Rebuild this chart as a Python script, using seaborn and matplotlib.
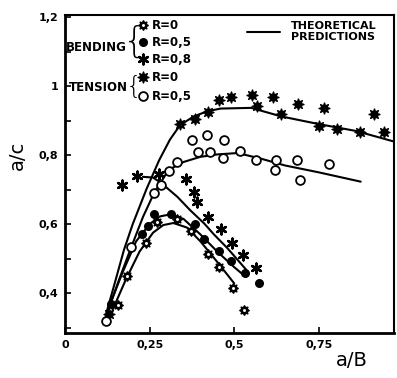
import matplotlib
matplotlib.use("Agg")
import matplotlib.pyplot as plt
import seaborn as sns
import pandas as pd

# ---- data: experimental points ----
bend_r0_x = [0.155, 0.184, 0.24, 0.273, 0.332, 0.373, 0.423, 0.456, 0.497, 0.528]
bend_r0_y = [0.364, 0.45, 0.545, 0.607, 0.614, 0.58, 0.514, 0.475, 0.416, 0.35]

bend_r05_x = [0.135, 0.228, 0.246, 0.262, 0.312, 0.384, 0.41, 0.454, 0.49, 0.532, 0.574]
bend_r05_y = [0.368, 0.57, 0.595, 0.628, 0.629, 0.6, 0.556, 0.523, 0.494, 0.458, 0.43]

bend_r08_x = [0.167, 0.214, 0.278, 0.357, 0.381, 0.391, 0.423, 0.462, 0.493, 0.527, 0.565]
bend_r08_y = [0.713, 0.74, 0.745, 0.73, 0.694, 0.665, 0.621, 0.585, 0.546, 0.51, 0.473]

ten_r0_x = [0.13, 0.34, 0.384, 0.424, 0.456, 0.49, 0.552, 0.566, 0.614, 0.638, 0.69,
            0.751, 0.766, 0.805, 0.872, 0.912, 0.943]
ten_r0_y = [0.34, 0.889, 0.906, 0.926, 0.959, 0.969, 0.973, 0.942, 0.968, 0.92, 0.948,
            0.883, 0.936, 0.877, 0.868, 0.92, 0.866]

ten_r05_x = [0.121, 0.196, 0.262, 0.284, 0.307, 0.331, 0.376, 0.42, 0.47, 0.392, 0.428,
             0.467, 0.518, 0.564, 0.625, 0.685, 0.62, 0.695, 0.78]
ten_r05_y = [0.318, 0.534, 0.691, 0.714, 0.755, 0.78, 0.843, 0.857, 0.845, 0.809, 0.808,
             0.791, 0.811, 0.786, 0.787, 0.785, 0.757, 0.728, 0.774]

# ---- data: theoretical predictions ----
th_ten_r0_x = [0.12, 0.15, 0.174, 0.2, 0.24, 0.278, 0.31, 0.34, 0.38, 0.42, 0.46, 0.55,
               0.64, 0.75, 0.86, 0.97]
th_ten_r0_y = [0.335, 0.44, 0.525, 0.6, 0.7, 0.785, 0.845, 0.887, 0.912, 0.927, 0.935,
               0.937, 0.912, 0.89, 0.87, 0.84]

th_ten_r05_x = [0.12, 0.16, 0.196, 0.23, 0.263, 0.306, 0.35, 0.4, 0.45, 0.51, 0.578,
                0.65, 0.75, 0.874]
th_ten_r05_y = [0.33, 0.44, 0.534, 0.62, 0.69, 0.757, 0.78, 0.795, 0.802, 0.806, 0.79,
                0.77, 0.75, 0.723]

th_bend_r08_x = [0.23, 0.26, 0.283, 0.332, 0.37, 0.411, 0.44, 0.48, 0.536]
th_bend_r08_y = [0.737, 0.735, 0.72, 0.679, 0.64, 0.602, 0.57, 0.53, 0.467]

th_bend_r05_x = [0.13, 0.17, 0.21, 0.25, 0.28, 0.31, 0.35, 0.4, 0.45, 0.5, 0.534]
th_bend_r05_y = [0.36, 0.46, 0.55, 0.6, 0.622, 0.628, 0.615, 0.57, 0.52, 0.475, 0.447]

th_bend_r0_x = [0.14, 0.18, 0.22, 0.26, 0.29, 0.32, 0.36, 0.4, 0.45, 0.5]
th_bend_r0_y = [0.35, 0.44, 0.52, 0.575, 0.597, 0.603, 0.59, 0.55, 0.49, 0.428]

y_ticks = [0.4, 0.6, 0.8, 1.0, 1.2]
y_ticklabels = ["0,4", "0,6", "0,8", "1", "1,2"]
x_ticks = [0, 0.25, 0.5, 0.75]
x_ticklabels = ["0", "0,25", "0,5", "0,75"]

sns.set_style("ticks")
plt.rcParams["font.family"] = ["DejaVu Sans"]
plt.rcParams.update({"text.color": "black", "axes.labelcolor": "black",
                     "xtick.color": "black", "ytick.color": "black",
                     "axes.edgecolor": "black"})

fig = plt.figure(figsize=(3.97, 3.78), dpi=100)
ax = fig.add_axes([0.164, 0.119, 0.828, 0.841])

# theoretical curves
for cx, cy in [(th_ten_r0_x, th_ten_r0_y), (th_ten_r05_x, th_ten_r05_y),
               (th_bend_r08_x, th_bend_r08_y), (th_bend_r05_x, th_bend_r05_y),
               (th_bend_r0_x, th_bend_r0_y)]:
    sns.lineplot(x=cx, y=cy, ax=ax, color="black", lw=1.5, sort=False, estimator=None)

gear = (8, 1, 0)
aster = (6, 2, 0)
styles = {
    "bend_r0": dict(marker=gear, s=42, facecolor="white", edgecolor="black", linewidth=1.3),
    "bend_r05": dict(marker="o", s=30, facecolor="black", edgecolor="black", linewidth=1.0),
    "bend_r08": dict(marker=aster, s=48, facecolor="black", edgecolor="black", linewidth=1.8),
    "ten_r0": dict(marker=gear, s=62, facecolor="black", edgecolor="black", linewidth=1.0),
    "ten_r05": dict(marker="o", s=40, facecolor="white", edgecolor="black", linewidth=1.3),
}
series = {
    "bend_r0": (bend_r0_x, bend_r0_y),
    "bend_r05": (bend_r05_x, bend_r05_y),
    "bend_r08": (bend_r08_x, bend_r08_y),
    "ten_r0": (ten_r0_x, ten_r0_y),
    "ten_r05": (ten_r05_x, ten_r05_y),
}
for k, (sx, sy) in series.items():
    sns.scatterplot(x=sx, y=sy, ax=ax, zorder=3, **styles[k])

ax.set_xlim(0, 0.972)
ax.set_ylim(0.284, 1.206)
ax.set_xticks(x_ticks)
ax.set_xticklabels(x_ticklabels, fontsize=8, fontweight="bold")
ax.set_yticks(y_ticks)
ax.set_yticklabels(y_ticklabels, fontsize=8, fontweight="bold")
ax.set_yticks([0.3, 0.5, 0.7, 0.9, 1.1], minor=True)
ax.tick_params(axis="both", which="both", direction="in", length=4, width=1.2, pad=5)
for sp in ["left", "bottom"]:
    ax.spines[sp].set_linewidth(2.0)
for sp in ["top", "right"]:
    ax.spines[sp].set_linewidth(1.5)

ax.set_xlabel("")
ax.set_ylabel("")
fig.text(0.045, 0.59, "a/c", rotation=90, fontsize=14, ha="center", va="center")
fig.text(0.885, 0.047, "a/B", fontsize=14, ha="center", va="center")

# legend (manual, in axes fraction)
tr = ax.transAxes
def axf(px, py):
    return ((px - 65) / 329.0, 1 - (py - 15) / 318.0)

leg_items = [
    ("bend_r0", "R=0", 25), ("bend_r05", "R=0,5", 42), ("bend_r08", "R=0,8", 59),
    ("ten_r0", "R=0", 77), ("ten_r05", "R=0,5", 96),
]
for k, lab, py in leg_items:
    mx, my = axf(143, py)
    ax.scatter([mx], [my], transform=tr, clip_on=False, zorder=4, **styles[k])
    tx, ty = axf(152, py)
    ax.text(tx, ty, lab, transform=tr, fontsize=8.5, fontweight="bold", va="center", ha="left")

bx, by = axf(66, 47)
ax.text(bx, by, "BENDING", transform=tr, fontsize=8.5, fontweight="bold", va="center", ha="left")
bx, by = axf(69, 87)
ax.text(bx, by, "TENSION", transform=tr, fontsize=8.5, fontweight="bold", va="center", ha="left")
# braces
bx, by = axf(134, 42)
ax.text(bx, by, "{", transform=tr, fontsize=26, va="center", ha="center", fontweight="light")
bx, by = axf(134, 87)
ax.text(bx, by, "{", transform=tr, fontsize=18, va="center", ha="center", fontweight="light")

# theoretical predictions key
x0, y0 = axf(247, 32)
x1, _ = axf(280, 32)
ax.plot([x0, x1], [y0, y0], transform=tr, color="black", lw=1.5)
tx, ty = axf(291, 31)
ax.text(tx, ty, "THEORETICAL\nPREDICTIONS", transform=tr, fontsize=8, fontweight="bold",
        va="center", ha="left", linespacing=1.1)

fig.savefig("out.png", dpi=100)
